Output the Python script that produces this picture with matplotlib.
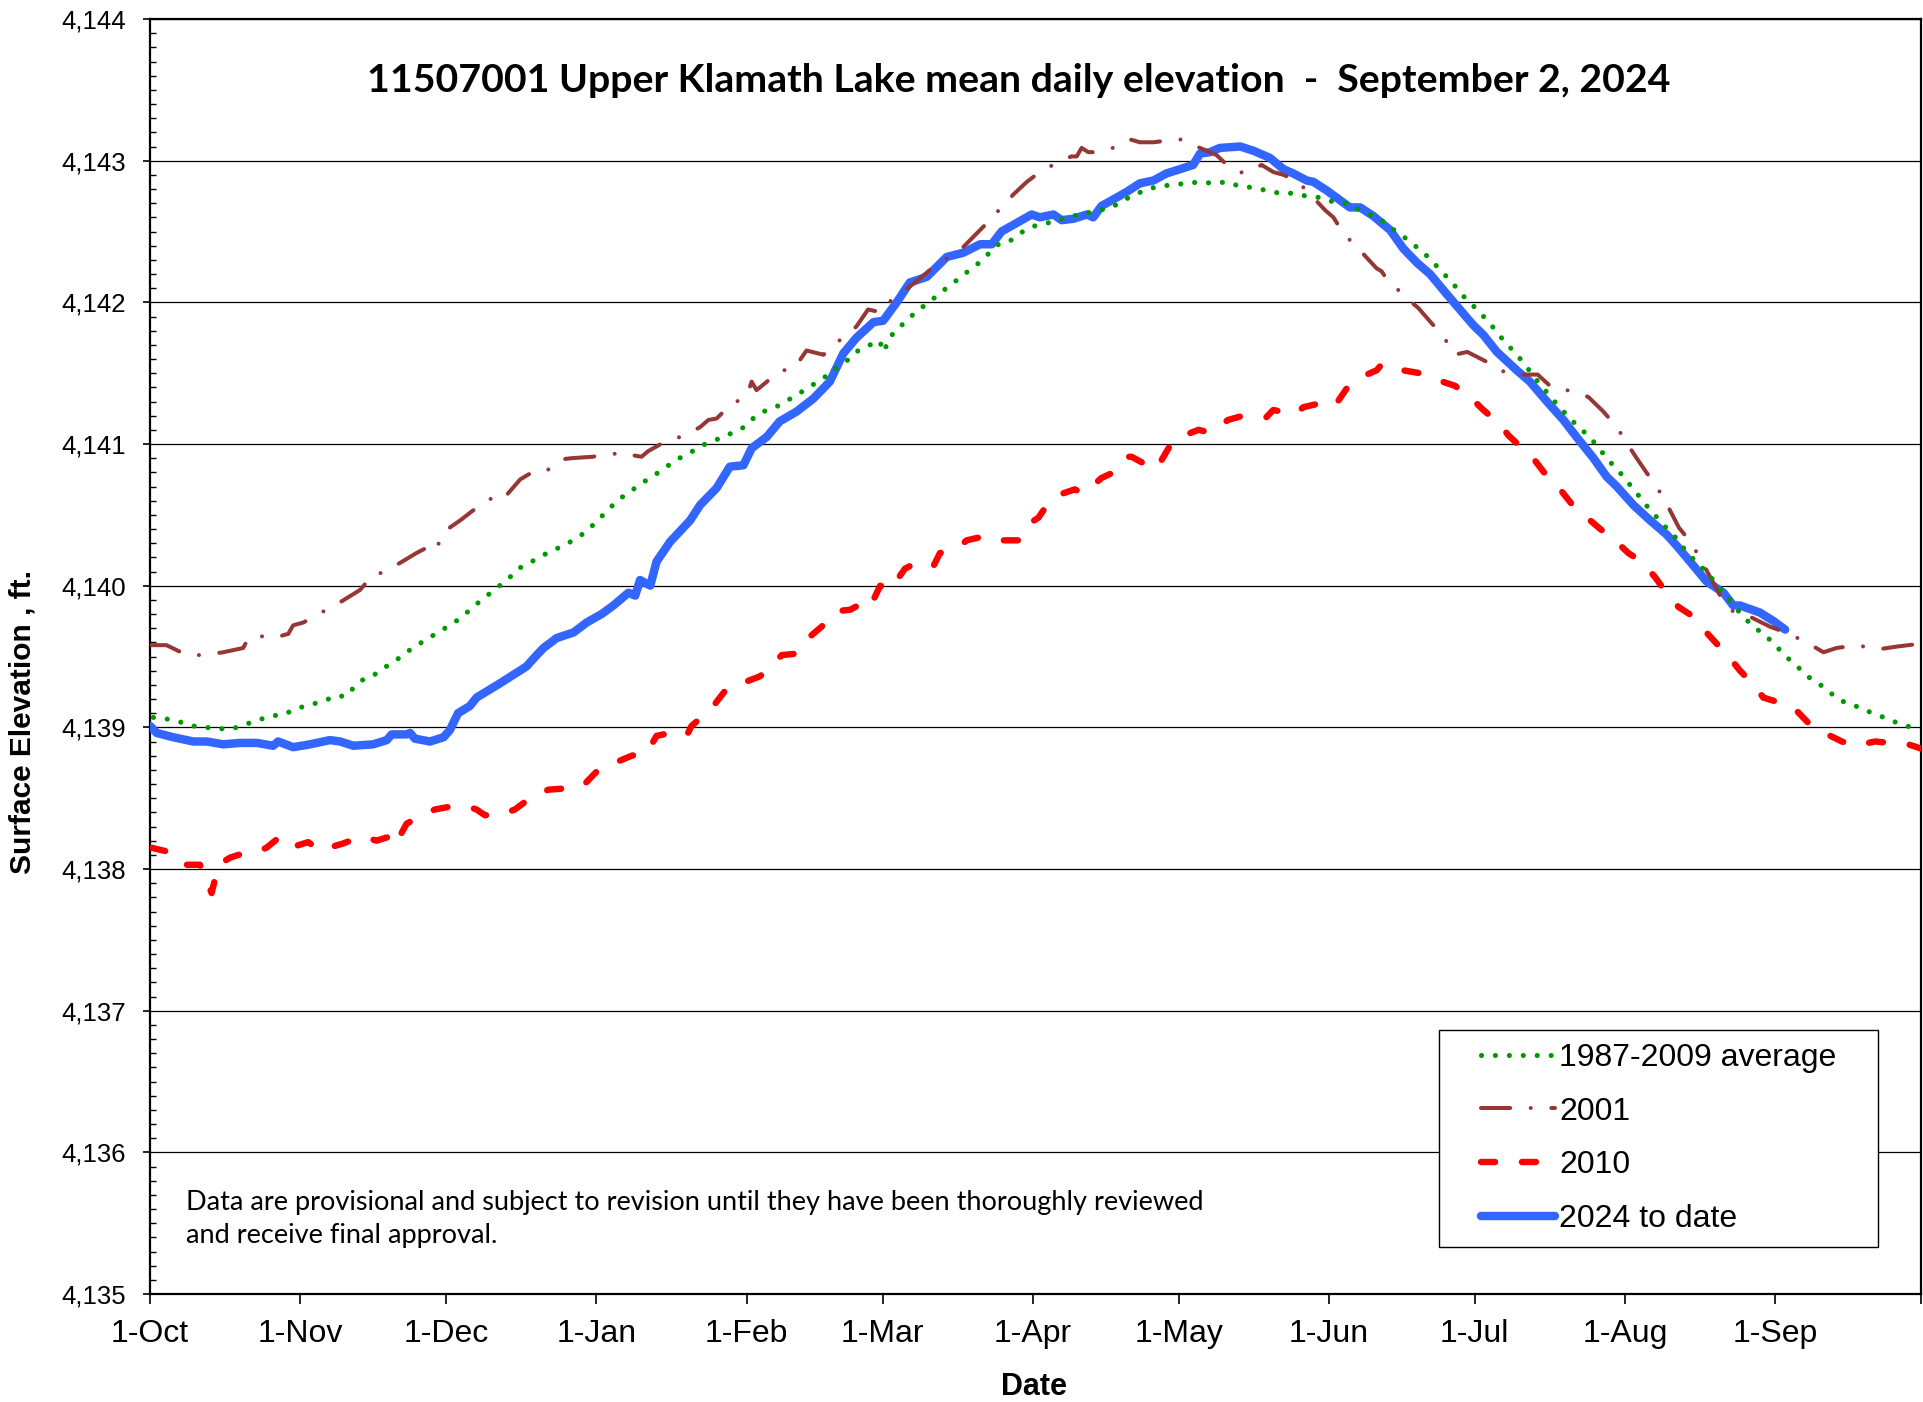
import matplotlib
matplotlib.use("Agg")
import matplotlib.pyplot as plt
from matplotlib.ticker import MultipleLocator, FuncFormatter
from matplotlib.patches import Rectangle

# ---------------- data (day of water year from 1-Oct, elevation ft) ----------------
avg_day = [0.7, 3.3, 6.0, 8.7, 11.5, 14.2, 17.0, 19.6, 22.2, 24.9, 27.5, 30.1, 32.8, 35.5, 38.1, 40.5,
           42.2, 44.4, 46.8, 49.1, 51.4, 53.7, 56.0, 58.4, 60.8, 63.1, 65.3, 67.3, 69.5, 71.7, 73.9,
           75.9, 78.2, 80.7, 83.1, 85.7, 88.1, 90.3, 92.1, 94.1, 96.2, 98.4, 100.8, 103.0, 105.3,
           107.7, 110.1, 112.5, 114.9, 117.5, 120.1, 122.5, 124.6, 127.1, 129.5, 132.0, 134.4, 136.7,
           139.0, 141.2, 143.4, 145.5, 147.8, 150.3, 151.3, 152.2, 153.9, 156.0, 158.0, 160.2, 162.3,
           164.5, 166.8, 169.0, 171.3, 173.0, 175.2, 177.6, 179.9, 182.4, 185.0, 189.0, 193.1, 198.2,
           200.6, 203.0, 205.6, 208.2, 210.9, 213.7, 216.4, 219.2, 221.9, 224.5, 227.3, 230.0, 232.8,
           235.5, 238.3, 241.0, 243.8, 246.5, 249.4, 252.1, 254.2, 256.4, 258.5, 260.7, 262.8, 264.8,
           266.7, 268.6, 270.5, 272.3, 274.3, 276.2, 278.0, 279.8, 281.7, 283.4, 285.1, 286.8, 288.7,
           290.5, 292.4, 294.4, 296.4, 298.2, 300.0, 301.8, 303.7, 305.5, 307.2, 309.0, 310.9, 312.7,
           314.7, 316.4, 318.3, 321.0, 324.0, 327.4, 329.3, 331.3, 333.5, 335.5, 337.5, 339.5, 341.6,
           343.9, 346.1, 348.3, 350.9, 353.5, 356.0, 358.6, 361.2, 363.8, 365.0]
avg_val = [4139.07, 4139.06, 4139.04, 4139.01, 4139.00, 4138.99, 4138.99, 4139.02, 4139.05, 4139.08,
           4139.09, 4139.13, 4139.16, 4139.18, 4139.22, 4139.22, 4139.29, 4139.35, 4139.38, 4139.44,
           4139.49, 4139.55, 4139.60, 4139.65, 4139.70, 4139.75, 4139.81, 4139.87, 4139.93, 4139.99,
           4140.05, 4140.12, 4140.16, 4140.21, 4140.25, 4140.29, 4140.34, 4140.39, 4140.46, 4140.52,
           4140.60, 4140.65, 4140.71, 4140.76, 4140.81, 4140.87, 4140.92, 4140.96, 4141.01, 4141.04,
           4141.08, 4141.12, 4141.19, 4141.24, 4141.27, 4141.32, 4141.37, 4141.42, 4141.47, 4141.53,
           4141.58, 4141.65, 4141.69, 4141.73, 4141.65, 4141.74, 4141.81, 4141.87, 4141.94, 4141.99,
           4142.05, 4142.11, 4142.17, 4142.23, 4142.29, 4142.35, 4142.42, 4142.44, 4142.50, 4142.54,
           4142.56, 4142.60, 4142.63, 4142.67, 4142.72, 4142.76, 4142.80, 4142.82, 4142.83, 4142.84,
           4142.85, 4142.84, 4142.85, 4142.82, 4142.81, 4142.79, 4142.77, 4142.77, 4142.75, 4142.74,
           4142.71, 4142.70, 4142.65, 4142.61, 4142.57, 4142.51, 4142.46, 4142.40, 4142.34, 4142.27,
           4142.20, 4142.13, 4142.05, 4141.99, 4141.92, 4141.85, 4141.77, 4141.70, 4141.63, 4141.56,
           4141.48, 4141.41, 4141.33, 4141.26, 4141.19, 4141.12, 4141.06, 4140.99, 4140.91, 4140.84,
           4140.77, 4140.69, 4140.62, 4140.54, 4140.47, 4140.40, 4140.33, 4140.25, 4140.18, 4140.09,
           4139.96, 4139.82, 4139.75, 4139.69, 4139.63, 4139.56, 4139.49, 4139.43, 4139.36, 4139.31,
           4139.25, 4139.19, 4139.16, 4139.12, 4139.09, 4139.05, 4139.02, 4138.99, 4138.98]

y2001_day = [0.3, 3.4, 7.6, 11.2, 15.1, 19.2, 20.3, 21.6, 25.4, 28.5, 29.5, 31.6, 34.7, 38.1, 41.9, 43.3,
             46.0, 47.7, 51.5, 54.9, 57.7, 58.7, 59.4, 60.5, 63.9, 67.3, 69.7, 72.1, 73.5, 76.3, 79.7,
             82.1, 84.5, 86.9, 91.2, 95.5, 98.2, 99.6, 101.3, 102.7, 106.3, 110.3, 113.4, 115.1, 116.8,
             119.4, 123.0, 124.0, 125.0, 126.8, 129.5, 132.9, 135.3, 138.8, 141.7, 144.6, 145.6, 148.0,
             150.5, 152.9, 157.3, 160.8, 167.6, 172.8, 175.2, 177.9, 180.7, 183.4, 187.2, 189.9, 191.0,
             192.0, 193.4, 195.5, 198.4, 202.0, 204.0, 206.8, 209.2, 212.6, 216.4, 219.8, 222.6, 225.5,
             229.1, 231.5, 233.6, 236.3, 239.2, 242.2, 243.9, 245.9, 247.0, 250.1, 252.8, 253.8, 255.2,
             256.9, 258.3, 261.4, 264.2, 266.6, 267.6, 268.8, 271.5, 275.5, 278.2, 281.3, 286.0, 289.2,
             292.0, 294.7, 296.5, 299.5, 302.3, 304.3, 306.4, 309.0, 311.4, 313.3, 315.1, 317.7, 319.8,
             321.9, 323.6, 326.2, 329.8, 333.9, 336.3, 340.9, 344.9, 347.6, 351.8, 356.1, 360.0, 364.8]
y2001_val = [4139.58, 4139.58, 4139.51, 4139.51, 4139.53, 4139.56, 4139.63, 4139.65, 4139.63, 4139.66,
             4139.72, 4139.74, 4139.80, 4139.86, 4139.94, 4139.97, 4140.08, 4140.09, 4140.16, 4140.23,
             4140.28, 4140.32, 4140.29, 4140.38, 4140.46, 4140.55, 4140.60, 4140.66, 4140.64, 4140.75,
             4140.82, 4140.82, 4140.89, 4140.90, 4140.91, 4140.93, 4140.94, 4140.92, 4140.91, 4140.95,
             4141.02, 4141.06, 4141.12, 4141.17, 4141.18, 4141.27, 4141.34, 4141.44, 4141.38, 4141.43,
             4141.51, 4141.54, 4141.66, 4141.63, 4141.72, 4141.80, 4141.83, 4141.95, 4141.93, 4142.02,
             4142.13, 4142.23, 4142.39, 4142.57, 4142.66, 4142.76, 4142.85, 4142.92, 4142.99, 4143.03,
             4143.03, 4143.09, 4143.06, 4143.06, 4143.09, 4143.15, 4143.13, 4143.13, 4143.14, 4143.15,
             4143.09, 4143.04, 4142.95, 4142.91, 4142.97, 4142.92, 4142.90, 4142.86, 4142.76, 4142.65,
             4142.60, 4142.49, 4142.45, 4142.34, 4142.24, 4142.22, 4142.15, 4142.10, 4142.05, 4141.96,
             4141.85, 4141.76, 4141.70, 4141.63, 4141.65, 4141.58, 4141.52, 4141.49, 4141.49, 4141.39,
             4141.38, 4141.36, 4141.33, 4141.23, 4141.12, 4141.01, 4140.90, 4140.77, 4140.65, 4140.53,
             4140.41, 4140.30, 4140.17, 4140.04, 4139.93, 4139.82, 4139.78, 4139.71, 4139.68, 4139.61,
             4139.53, 4139.56, 4139.58, 4139.55, 4139.57, 4139.59]

y2010_day = [0.3, 4.0, 6.9, 10.3, 12.0, 12.7, 14.1, 16.5, 20.9, 22.7, 24.0, 26.5, 28.9, 32.6, 35.0, 36.8,
             39.8, 43.6, 46.7, 49.5, 50.5, 52.9, 55.0, 58.7, 61.8, 65.6, 67.3, 69.0, 72.1, 75.2, 78.7,
             82.1, 86.2, 89.3, 92.4, 95.1, 99.3, 102.4, 104.4, 107.2, 110.6, 111.6, 114.7, 116.1, 118.8,
             121.9, 125.7, 127.1, 130.2, 133.3, 136.0, 138.4, 141.5, 144.3, 147.0, 148.4, 150.5, 152.5,
             155.6, 158.4, 161.5, 162.8, 166.6, 168.3, 172.1, 174.8, 178.9, 180.0, 183.1, 184.5, 187.2,
             190.6, 192.4, 196.1, 199.2, 201.4, 202.3, 207.1, 208.2, 210.6, 212.3, 216.1, 218.5, 222.2,
             225.3, 230.1, 231.5, 236.0, 237.7, 241.5, 244.2, 247.0, 249.4, 252.8, 253.8, 255.2, 258.3,
             261.7, 265.5, 269.0, 272.4, 274.8, 277.9, 280.0, 283.1, 285.5, 288.2, 290.6, 293.4, 295.8,
             298.9, 301.6, 304.7, 307.4, 310.2, 312.3, 315.0, 317.7, 320.5, 322.9, 325.6, 327.7, 330.5,
             332.5, 336.3, 339.0, 342.1, 344.5, 348.7, 351.4, 355.5, 358.6, 362.4, 365.0]
y2010_val = [4138.15, 4138.12, 4138.03, 4138.03, 4137.89, 4137.83, 4138.03, 4138.08, 4138.13, 4138.13,
             4138.15, 4138.22, 4138.15, 4138.19, 4138.13, 4138.15, 4138.18, 4138.23, 4138.20, 4138.23,
             4138.17, 4138.32, 4138.36, 4138.42, 4138.44, 4138.44, 4138.42, 4138.38, 4138.38, 4138.42,
             4138.51, 4138.56, 4138.57, 4138.59, 4138.70, 4138.74, 4138.80, 4138.82, 4138.94, 4138.96,
             4138.94, 4139.01, 4139.10, 4139.15, 4139.27, 4139.31, 4139.36, 4139.40, 4139.51, 4139.52,
             4139.64, 4139.71, 4139.82, 4139.83, 4139.88, 4139.85, 4140.00, 4139.97, 4140.12, 4140.17,
             4140.14, 4140.23, 4140.27, 4140.32, 4140.35, 4140.32, 4140.32, 4140.41, 4140.48, 4140.55,
             4140.64, 4140.68, 4140.65, 4140.76, 4140.81, 4140.91, 4140.91, 4140.82, 4140.87, 4141.01,
             4141.05, 4141.10, 4141.08, 4141.17, 4141.20, 4141.19, 4141.24, 4141.21, 4141.26, 4141.29,
             4141.27, 4141.41, 4141.47, 4141.52, 4141.56, 4141.53, 4141.52, 4141.50, 4141.45, 4141.41,
             4141.32, 4141.24, 4141.15, 4141.06, 4140.96, 4140.88, 4140.76, 4140.68, 4140.56, 4140.49,
             4140.40, 4140.33, 4140.23, 4140.17, 4140.06, 4139.96, 4139.85, 4139.79, 4139.68, 4139.59,
             4139.49, 4139.40, 4139.30, 4139.21, 4139.17, 4139.13, 4139.02, 4138.97, 4138.90, 4138.87,
             4138.90, 4138.89, 4138.88, 4138.85]

y2024_day = [0, 1.4, 4.8, 8.9, 11.7, 15.1, 18.5, 22.0, 25.4, 26.4, 29.5, 33.0, 37.1, 39.2, 41.9, 46.0,
             48.8, 49.8, 52.9, 53.6, 54.6, 57.7, 60.5, 61.8, 63.5, 65.9, 67.3, 72.1, 77.6, 79.7, 81.1,
             83.8, 87.3, 90.0, 93.1, 95.5, 98.6, 100.0, 101.0, 103.1, 104.4, 107.2, 111.3, 113.4, 116.8,
             119.5, 122.3, 124.0, 127.1, 129.8, 133.3, 136.7, 140.1, 142.9, 145.6, 149.1, 151.1, 153.9,
             156.6, 160.1, 164.2, 167.6, 171.1, 173.5, 175.5, 178.6, 181.7, 183.4, 186.2, 187.9, 190.3,
             193.1, 194.4, 196.1, 198.2, 201.3, 204.0, 206.8, 209.5, 212.3, 215.0, 216.4, 218.5, 220.5,
             224.7, 227.4, 230.8, 233.6, 235.6, 238.4, 239.8, 242.5, 245.3, 247.3, 249.4, 252.1, 255.6,
             258.3, 261.1, 263.8, 267.2, 270.7, 272.7, 274.8, 277.6, 281.7, 284.4, 287.9, 291.3, 294.0,
             297.5, 300.2, 302.3, 305.7, 309.2, 312.6, 314.7, 317.4, 320.8, 324.3, 326.3, 327.7, 331.8,
             334.6, 337.0]
y2024_val = [4139.01, 4138.96, 4138.93, 4138.90, 4138.90, 4138.88, 4138.89, 4138.89, 4138.87, 4138.90,
             4138.86, 4138.88, 4138.91, 4138.90, 4138.87, 4138.88, 4138.91, 4138.95, 4138.95, 4138.96,
             4138.92, 4138.90, 4138.93, 4138.98, 4139.10, 4139.15, 4139.21, 4139.31, 4139.43, 4139.51,
             4139.56, 4139.63, 4139.67, 4139.74, 4139.80, 4139.86, 4139.95, 4139.93, 4140.04, 4140.00,
             4140.17, 4140.31, 4140.46, 4140.57, 4140.69, 4140.84, 4140.85, 4140.97, 4141.05, 4141.16,
             4141.23, 4141.32, 4141.44, 4141.64, 4141.75, 4141.86, 4141.87, 4142.00, 4142.14, 4142.18,
             4142.32, 4142.35, 4142.41, 4142.41, 4142.50, 4142.56, 4142.62, 4142.60, 4142.62, 4142.58,
             4142.59, 4142.62, 4142.60, 4142.68, 4142.72, 4142.78, 4142.84, 4142.86, 4142.91, 4142.94,
             4142.97, 4143.05, 4143.06, 4143.09, 4143.10, 4143.07, 4143.02, 4142.94, 4142.91, 4142.86,
             4142.85, 4142.79, 4142.72, 4142.67, 4142.67, 4142.61, 4142.51, 4142.38, 4142.28, 4142.20,
             4142.06, 4141.92, 4141.84, 4141.77, 4141.65, 4141.52, 4141.44, 4141.30, 4141.17, 4141.05,
             4140.90, 4140.77, 4140.70, 4140.57, 4140.46, 4140.36, 4140.28, 4140.17, 4140.03, 4139.95,
             4139.86, 4139.86, 4139.81, 4139.75, 4139.69]

month_days = [0, 31, 61, 92, 123, 151, 182, 212, 243, 273, 304, 335, 365]
month_labels = ["1-Oct", "1-Nov", "1-Dec", "1-Jan", "1-Feb", "1-Mar", "1-Apr",
                "1-May", "1-Jun", "1-Jul", "1-Aug", "1-Sep", ""]
series_labels = ["1987-2009 average", "2001", "2010", "2024 to date"]

title_text = "11507001 Upper Klamath Lake mean daily elevation  -  September 2, 2024"
note_lines = ["Data are provisional and subject to revision until they have been thoroughly reviewed",
              "and receive final approval."]

# ---------------- figure ----------------
W, H = 1923, 1402
fig = plt.figure(figsize=(W / 100, H / 100), dpi=100)
ARIAL = ["Liberation Sans", "Arial", "DejaVu Sans"]
CALIBRI = ["Lato", "Open Sans", "DejaVu Sans"]

def fx(px):
    return px / W

def fy(py):
    return 1 - py / H

ax = fig.add_axes([fx(150), fy(1294), (1921 - 150) / W, (1294 - 19) / H])

GREEN = "#009A00"
BROWN = "#953735"
RED = "#FF0000"
BLUE = "#3366FF"

l24, = ax.plot(y2024_day, y2024_val, color=BLUE, lw=6.1, solid_capstyle="round",
               solid_joinstyle="round", zorder=3)
l10, = ax.plot(y2010_day, y2010_val, color=RED, lw=4.6, linestyle=(0, (2.2, 4.2)),
               dash_capstyle="round", dash_joinstyle="round", zorder=4)
l01, = ax.plot(y2001_day, y2001_val, color=BROWN, lw=2.9, linestyle=(0, (7.25, 5.1, 0.01, 5.1)),
               dash_capstyle="round", dash_joinstyle="round", zorder=5)
lav, = ax.plot(avg_day, avg_val, color=GREEN, lw=3.7, linestyle=(0, (0.01, 2.7)),
               dash_capstyle="round", zorder=6)

ax.set_xlim(0, 365)
ax.set_ylim(4135, 4144)
ax.set_xticks(month_days)
ax.set_xticklabels(month_labels)
ax.yaxis.set_major_locator(MultipleLocator(1))
ax.yaxis.set_minor_locator(MultipleLocator(0.1))
ax.yaxis.set_major_formatter(FuncFormatter(lambda v, p: f"{v:,.0f}"))
ax.tick_params(axis="y", which="major", direction="out", length=5, width=1.2,
               labelsize=18.5, pad=12.5, colors="black")
ax.tick_params(axis="y", which="minor", direction="in", length=4.3, width=1.0)
ax.tick_params(axis="x", which="major", direction="out", length=7.2, width=1.2,
               labelsize=23, pad=10.5)
for lab in ax.get_yticklabels() + ax.get_xticklabels():
    lab.set_fontfamily(ARIAL)
ax.yaxis.grid(True, which="major", color="black", lw=0.9)
ax.set_axisbelow(True)
for s in ax.spines.values():
    s.set_linewidth(1.6)
    s.set_color("black")

# axis labels
fig.text(fx(23), fy(722), "Surface Elevation , ft.", rotation=90, ha="center", va="center",
         fontsize=21.5, fontweight="bold", family=ARIAL)
fig.text(fx(1034), fy(1395), "Date", ha="center", va="baseline",
         fontsize=22, fontweight="bold", family=ARIAL)

# title (fit to measured width)
t = fig.text(fx(1019), fy(92), title_text, ha="center", va="baseline",
             fontsize=27, fontweight="bold", family=CALIBRI)
fig.canvas.draw()
w = t.get_window_extent().width
t.set_fontsize(27 * 1300 / w)

# note
n1 = fig.text(fx(186), fy(1210), note_lines[0], ha="left", va="baseline", fontsize=17, family=CALIBRI)
fig.canvas.draw()
w = n1.get_window_extent().width
nfs = 17 * 1019 / w
n1.set_fontsize(nfs)
fig.text(fx(186), fy(1243), note_lines[1], ha="left", va="baseline", fontsize=nfs, family=CALIBRI)

# legend frame + legend
frame = Rectangle((fx(1439), fy(1247)), (1878 - 1439) / W, (1247 - 1030) / H,
                  transform=fig.transFigure, facecolor="white", edgecolor="black", lw=1.0,
                  zorder=10)
ax.add_artist(frame)
frame.set_clip_on(False)
leg = ax.legend([lav, l01, l10, l24], series_labels, loc="upper left",
                bbox_to_anchor=(fx(1481), fy(1043)), bbox_transform=fig.transFigure,
                frameon=False, borderpad=0, borderaxespad=0, handlelength=2.32,
                handletextpad=0.12, labelspacing=0.74, prop={"family": ARIAL, "size": 23})
leg.set_zorder(11)

fig.savefig("out.png", dpi=100)
